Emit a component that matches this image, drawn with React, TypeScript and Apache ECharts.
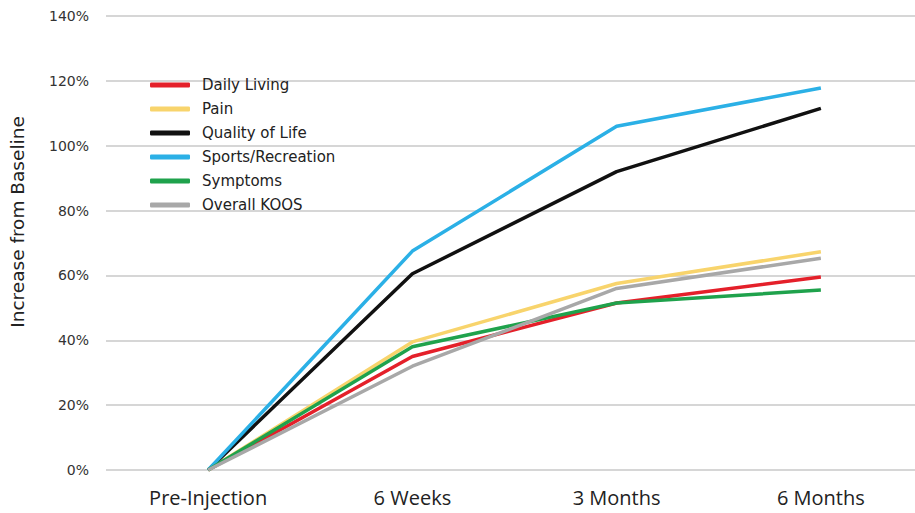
import React, { useEffect, useRef } from "react";
import * as echarts from "echarts";

const categories = ["Pre-Injection", "6 Weeks", "3 Months", "6 Months"];
const yTicks = [0, 20, 40, 60, 80, 100, 120, 140];

const dailyLiving = [0, 35, 51.5, 59.5];
const pain = [0, 39.5, 57.5, 67.3];
const qualityOfLife = [0, 60.5, 92, 111.5];
const sportsRecreation = [0, 67.5, 106, 117.8];
const symptoms = [0, 38, 51.5, 55.5];
const overallKoos = [0, 32, 56, 65.3];

const seriesDefs = [
  { name: "Daily Living", data: dailyLiving, color: "#e4202a" },
  { name: "Pain", data: pain, color: "#f8d46c" },
  { name: "Quality of Life", data: qualityOfLife, color: "#111111" },
  { name: "Sports/Recreation", data: sportsRecreation, color: "#2bb0e6" },
  { name: "Symptoms", data: symptoms, color: "#1fa24c" },
  { name: "Overall KOOS", data: overallKoos, color: "#a8a8a8" },
];

const FONT = "'Open Sans', 'DejaVu Sans', sans-serif";
const WIDE = "'DejaVu Sans', sans-serif";

export default function App() {
  const ref = useRef<HTMLDivElement>(null);
  useEffect(() => {
    if (!ref.current) return;
    const chart = echarts.init(ref.current, null, { renderer: "svg" });
    chart.setOption({
      animation: false,
      backgroundColor: "#ffffff",
      grid: {
        left: 106,
        width: 817,
        top: 16,
        height: 454,
        containLabel: false,
        outerBoundsMode: "none",
      },
      legend: {
        orient: "vertical",
        left: 145,
        top: 72,
        itemWidth: 40,
        itemHeight: 5,
        itemGap: 8,
        icon: "roundRect",
        data: seriesDefs.map((s) => s.name),
        textStyle: {
          fontFamily: WIDE,
          fontSize: 15,
          color: "#222",
          lineHeight: 16,
          padding: [0, 0, 0, 7],
        },
      },
      xAxis: {
        type: "category",
        data: categories,
        boundaryGap: true,
        axisLine: { show: false },
        axisTick: { show: false },
        axisLabel: {
          fontFamily: FONT,
          fontSize: 20,
          color: "#222",
          margin: 17,
        },
      },
      yAxis: {
        type: "value",
        min: yTicks[0],
        max: yTicks[yTicks.length - 1],
        interval: 20,
        axisLine: { show: false },
        axisTick: { show: false },
        axisLabel: {
          fontFamily: WIDE,
          fontSize: 14,
          color: "#333",
          margin: 17,
          formatter: (v: number) => `${v}%`,
        },
        splitLine: { lineStyle: { color: "#c8c8c8", width: 1.5 } },
      },
      graphic: [
        {
          type: "text",
          x: 17,
          y: 222,
          rotation: Math.PI / 2,
          style: {
            text: "Increase from Baseline",
            fontFamily: WIDE,
            fontSize: 18.5,
            fill: "#222",
            align: "center",
            verticalAlign: "middle",
          },
        },
      ],
      series: seriesDefs.map((s) => ({
        name: s.name,
        type: "line",
        data: s.data,
        symbol: "none",
        color: s.color,
        lineStyle: { color: s.color, width: 3.5 },
      })),
    });
    return () => chart.dispose();
  }, []);
  return (
    <div
      ref={ref}
      style={{ position: "absolute", left: 0, top: 0, width: 915, height: 513 }}
    />
  );
}
